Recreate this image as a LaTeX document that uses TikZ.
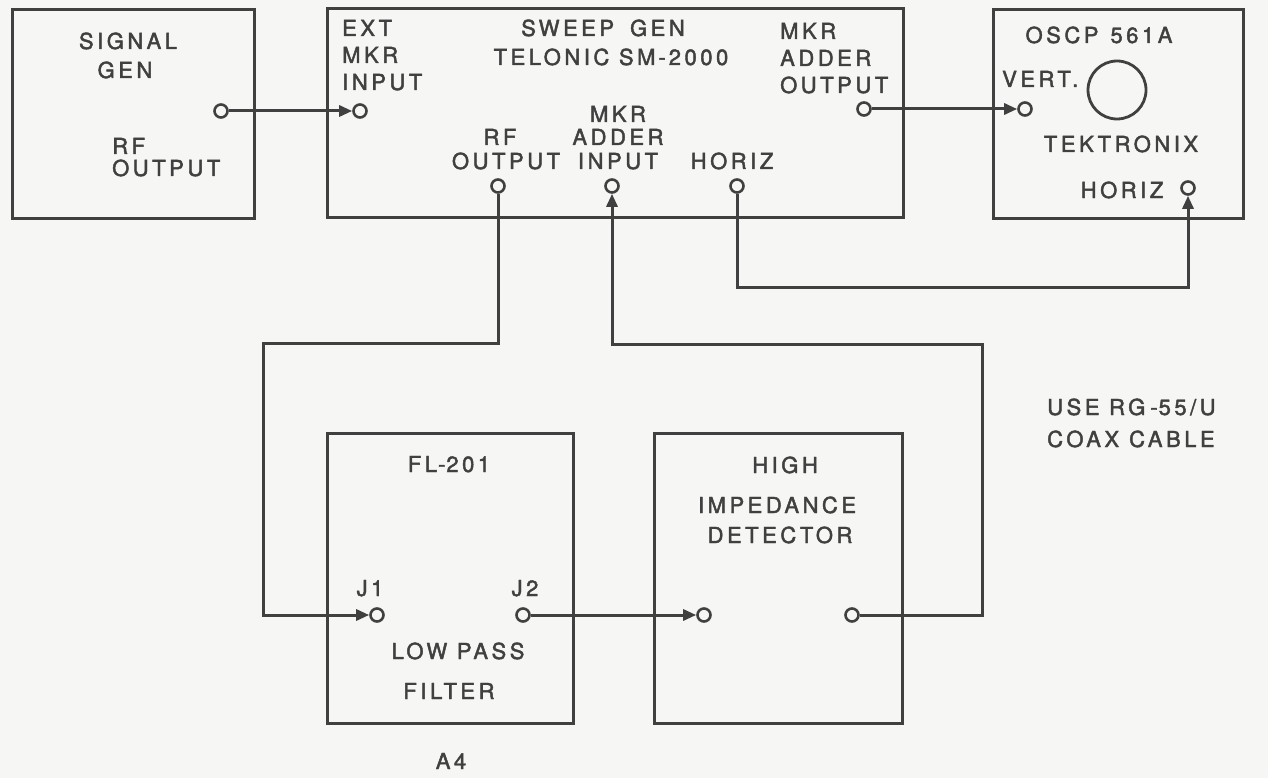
\documentclass[tikz,border=0pt]{standalone}
\usepackage{fontspec}
\setmainfont{TeX Gyre Heros}[LetterSpace=16,FakeBold=2]
\usetikzlibrary{arrows.meta}
\definecolor{ink}{HTML}{404040}
\definecolor{paper}{HTML}{F6F6F4}
\begin{document}
\begin{tikzpicture}[x=1pt,y=-1pt,
  box/.style={draw=ink,line width=3pt,inner sep=0pt,rectangle},
  port/.style={circle,draw=ink,line width=2.6pt,fill=paper,minimum size=13pt,inner sep=0pt},
  lbl/.style={text=ink,font=\fontsize{22}{26}\selectfont,inner sep=0pt,text height=16pt,text depth=0pt},
  conn/.style={draw=ink,line width=3pt},
  arr/.style={conn,-{Triangle[length=13pt,width=11pt]}},
]
\fill[paper] (0,0) rectangle (1268,778);
\useasboundingbox (0,0) rectangle (1268,778);

% boxes
\node[box,minimum width=242pt,minimum height=208pt] (sig) at (133,114) {};
\node[box,minimum width=576pt,minimum height=208pt] (sweep) at (615,113) {};
\node[box,minimum width=250pt,minimum height=208pt] (osc) at (1118,114) {};
\node[box,minimum width=246pt,minimum height=290pt] (fl) at (450,578) {};
\node[box,minimum width=248pt,minimum height=290pt] (det) at (778,578) {};
\node[circle,draw=ink,line width=2.8pt,minimum size=58pt,inner sep=0pt] (crt) at (1117,90) {};

% bend points
\coordinate (b1) at (498,343);
\coordinate (b2) at (263,343);
\coordinate (b3) at (982,344);
\coordinate (b4) at (737,287);

% ports
\node[port] (sgout) at (221,111) {};
\node[port] (extin) at (360,111) {};
\node[port] (rfout) at (498,186) {};
\node[port] (mkrin) at (612,186) {};
\node[port] (horiz) at (737,186) {};
\node[port] (mkrout) at (864,109) {};
\node[port] (vert) at (1025,109) {};
\node[port] (oshor) at (1188,188) {};
\node[port] (j1) at (377,615) {};
\node[port] (j2) at (523,615) {};
\node[port] (detin) at (704,615) {};
\node[port] (detout) at (852,615) {};

% connectors
\draw[arr] (sgout) -- (extin);
\draw[arr] (mkrout) -- (vert);
\draw[arr] (horiz) -- (b4) -| (oshor);
\draw[arr] (rfout) -- (b1) -- (b2) |- (j1);
\draw[arr] (j2) -- (detin);
\draw[arr] (detout) -| (b3) -| (mkrin);

% labels: signal gen
\node[lbl] (t1) at (128,41) {SIGNAL};
\node[lbl] (t2) at (125,70) {GEN};
\node[lbl,anchor=west] (t3) at (112,146) {RF};
\node[lbl,anchor=west] (t4) at (112,168) {OUTPUT};
% sweep gen
\node[lbl,anchor=west] (t5) at (342,28) {EXT};
\node[lbl,anchor=west] (t6) at (342,55) {MKR};
\node[lbl,anchor=west] (t7) at (342,82) {INPUT};
\node[lbl] (t8) at (603,28) {SWEEP\hspace{16pt}GEN};
\node[lbl] (t9) at (611,57) {TELONIC SM\hspace{3pt}-\hspace{3pt}2000};
\node[lbl] (t10) at (618,114) {MKR};
\node[lbl] (t11) at (618,137) {ADDER};
\node[lbl] (t12) at (618,161) {INPUT};
\node[lbl] (t13) at (500,137) {RF};
\node[lbl] (t14) at (506,161) {OUTPUT};
\node[lbl] (t15) at (732,161) {HORIZ};
\node[lbl,anchor=west] (t16) at (780,31) {MKR};
\node[lbl,anchor=west] (t17) at (780,58) {ADDER};
\node[lbl,anchor=west] (t18) at (780,85) {OUTPUT};
% oscilloscope
\node[lbl] (t19) at (1099,35) {OSCP\hspace{12pt}561A};
\node[lbl,anchor=west] (t20) at (1002,79) {VERT.};
\node[lbl] (t21) at (1121,144) {TEKTRONIX};
\node[lbl] (t22) at (1122,190) {HORIZ};
% filter
\node[lbl] (t23) at (449,464) {FL\hspace{1pt}-\hspace{1pt}201};
\node[lbl] (t24) at (370,588) {J1};
\node[lbl] (t25) at (525,588) {J2};
\node[lbl] (t26) at (458,651) {LOW PASS};
\node[lbl] (t27) at (449,691) {FILTER};
\node[lbl] (t28) at (451,761) {A4};
% detector
\node[lbl] (t29) at (785,465) {HIGH};
\node[lbl] (t30) at (777,505) {IMPEDANCE};
\node[lbl] (t31) at (780,535) {DETECTOR};
% note
\node[lbl,anchor=west] (t32) at (1047,407) {USE RG\hspace{5pt}-\hspace{1pt}55/U};
\node[lbl,anchor=west] (t33) at (1047,439) {COAX\hspace{10pt}CABLE};
\end{tikzpicture}
\end{document}
